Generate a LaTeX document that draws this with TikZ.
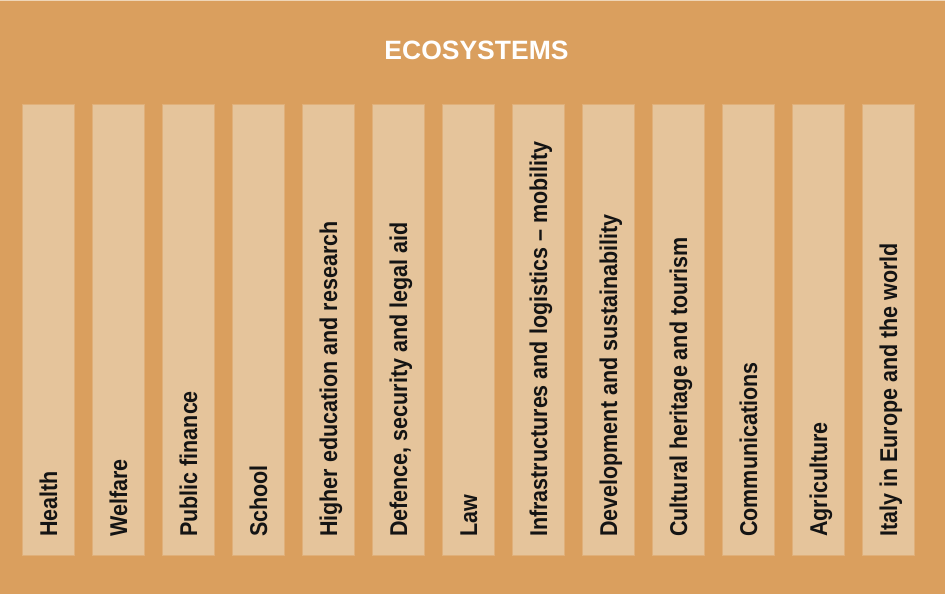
\documentclass[tikz,border=0pt]{standalone}
\usepackage{fontspec}
\setmainfont{Liberation Sans}
\definecolor{panel}{HTML}{DA9F5E}
\definecolor{barfill}{HTML}{E5C49B}
\definecolor{baredge}{HTML}{E0B07A}
\definecolor{topline}{HTML}{EFD6B8}
\begin{document}
\begin{tikzpicture}[x=1pt,y=-1pt,
  panelbox/.style={fill=panel,draw=none},
  barbox/.style={rectangle,fill=barfill,draw=baredge,line width=1.2pt,
    minimum width=52pt,minimum height=451pt,inner sep=0pt},
  bartext/.style={rotate=90,yscale=1.13,anchor=base west,inner sep=0pt,
    font=\fontsize{21.5}{26}\selectfont\bfseries,text=black!92},
  titletext/.style={font=\fontsize{26.5}{32}\selectfont\bfseries,text=white}]
  % background panel
  \fill[panel] (0,0) rectangle (945,594);
  \useasboundingbox (0,0) rectangle (945,594);
  \draw[topline,line width=1.5pt] (0,0.75) -- (945,0.75);
  % heading
  \node[titletext] (title) at (476.5,50) {ECOSYSTEMS};
  % one column per ecosystem
  \foreach \i/\t in {1/Health,2/Welfare,3/Public finance,4/School,
      5/Higher education and research,6/{Defence, security and legal aid},
      7/Law,8/Infrastructures and logistics – mobility,
      9/Development and sustainability,10/Cultural heritage and tourism,
      11/Communications,12/Agriculture,13/Italy in Europe and the world}{
    \node[barbox] (bar\i) at ({48.5+70*(\i-1)},330) {};
    \node[bartext] (lbl\i) at ({48.5+70*(\i-1)+8.5},537) {\t};
  }
\end{tikzpicture}
\end{document}
